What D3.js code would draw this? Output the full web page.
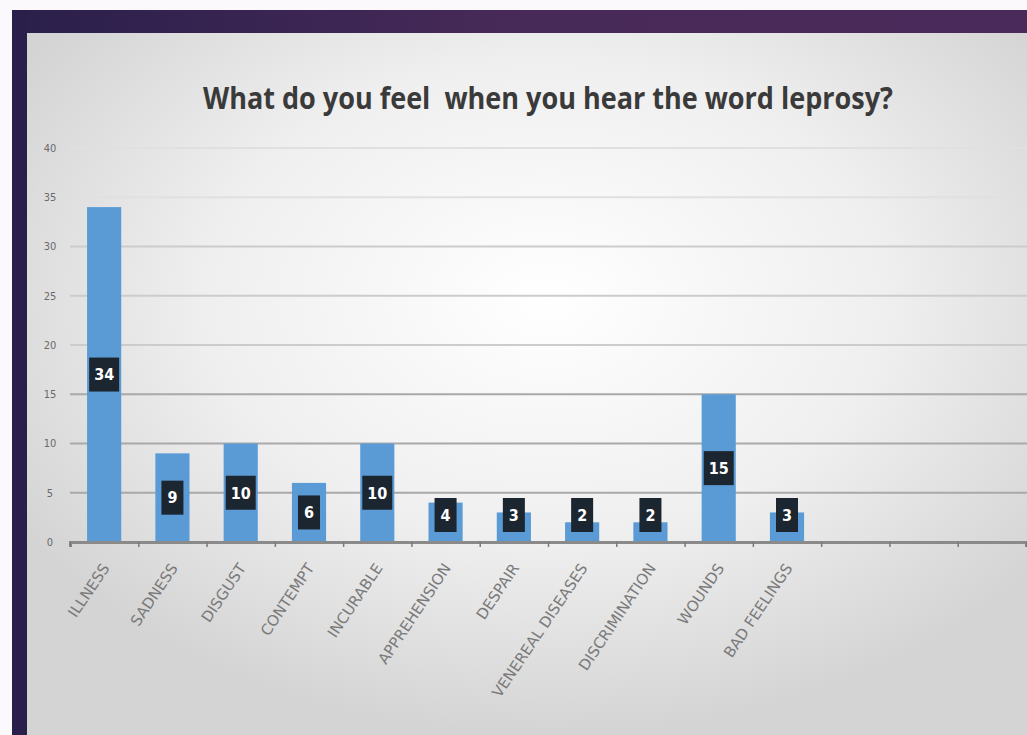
<!DOCTYPE html>
<html>
<head>
<meta charset="utf-8">
<script src="https://cdn.jsdelivr.net/npm/d3@7"></script>
<style>
html,body{margin:0;padding:0;background:#fff;overflow:hidden}
svg{display:block}
</style>
</head>
<body>
<svg id="chart" width="1027" height="735"></svg>
<script>
const titleText = "What do you feel  when you hear the word leprosy?";
const categories = ["ILLNESS","SADNESS","DISGUST","CONTEMPT","INCURABLE","APPREHENSION","DESPAIR","VENEREAL DISEASES","DISCRIMINATION","WOUNDS","BAD FEELINGS","","",""];
const values = [34, 9, 10, 6, 10, 4, 3, 2, 2, 15, 3];
const yTicks = [0, 5, 10, 15, 20, 25, 30, 35, 40];

const W = 1027, H = 735;
const svg = d3.select("#chart");
const defs = svg.append("defs");

const bandGrad = defs.append("linearGradient").attr("id","band").attr("x1","0").attr("x2","1");
bandGrad.append("stop").attr("offset","0").attr("stop-color","#2a1f4c");
bandGrad.append("stop").attr("offset","0.5").attr("stop-color","#482a58");
bandGrad.append("stop").attr("offset","1").attr("stop-color","#4a2a5a");

const panelGrad = defs.append("radialGradient").attr("id","panel")
  .attr("cx","0.52").attr("cy","0.38").attr("r","0.62");
panelGrad.append("stop").attr("offset","0").attr("stop-color","#ffffff");
panelGrad.append("stop").attr("offset","0.55").attr("stop-color","#efefef");
panelGrad.append("stop").attr("offset","1").attr("stop-color","#d4d4d4");

// frame
svg.append("rect").attr("x",0).attr("y",0).attr("width",W).attr("height",H).attr("fill","#fbf9fc");
svg.append("rect").attr("x",12).attr("y",10).attr("width",W-12).attr("height",H-10).attr("fill","url(#band)");
svg.append("rect").attr("x",12).attr("y",10).attr("width",15).attr("height",H-10).attr("fill","#2a1f4a");
svg.append("rect").attr("x",27).attr("y",33).attr("width",W-27).attr("height",H-33).attr("fill","url(#panel)");

// title
svg.append("text").attr("x",548).attr("y",109).attr("text-anchor","middle")
  .attr("font-family","'Open Sans', 'DejaVu Sans', sans-serif").attr("font-weight","bold")
  .attr("font-size",31).attr("fill","#3a3a3a")
  .attr("textLength",690).attr("lengthAdjust","spacingAndGlyphs")
  .style("white-space","pre")
  .text(titleText);

const x = d3.scaleBand().domain(d3.range(categories.length)).range([70, 1026]).paddingInner(0.5).paddingOuter(0.25);
const y = d3.scaleLinear().domain([0, 40]).range([542, 148]);

// gridlines
svg.append("g").selectAll("line").data(yTicks.filter(d => d > 0)).join("line")
  .attr("x1",70).attr("x2",W).attr("y1",d => y(d)).attr("y2",d => y(d))
  .attr("stroke", d => d <= 15 ? "#a9a9a9" : (d >= 35 ? "#e0e0e0" : "#cccccc")).attr("stroke-width",2);

// y axis labels
svg.append("g").selectAll("text").data(yTicks).join("text")
  .attr("x",50).attr("y",d => y(d)).attr("dy","0.35em").attr("text-anchor","middle")
  .attr("font-family","'DejaVu Sans Condensed', 'DejaVu Sans', sans-serif")
  .attr("font-size",11).attr("fill","#6a6a6a")
  .text(d => d);

// bars
svg.append("g").selectAll("rect").data(values).join("rect")
  .attr("x",(d,i) => x(i)).attr("width",x.bandwidth())
  .attr("y",d => y(d)).attr("height",d => y(0) - y(d))
  .attr("fill","#5b9bd5");

// x axis
const xAxis = d3.axisBottom(d3.scaleLinear().domain([0, categories.length]).range([70, 1026]))
  .tickValues(d3.range(categories.length + 1)).tickSize(5).tickFormat("");
const gx = svg.append("g").attr("transform","translate(0,542)").call(xAxis);
gx.select(".domain").attr("stroke","#8a8a8a").attr("stroke-width",3);
gx.selectAll(".tick line").attr("stroke","#7a7a7a").attr("stroke-width",1.5);

// category labels
svg.append("g").selectAll("text").data(categories).join("text")
  .attr("transform",(d,i) => `translate(${x(i) + x.bandwidth()/2 + 6},${568}) rotate(-56)`)
  .attr("text-anchor","end")
  .attr("font-family","'DejaVu Sans', sans-serif")
  .attr("font-size",15).attr("fill","#7a7a7a")
  .text(d => d);

// data labels
const lbl = svg.append("g").selectAll("g").data(values).join("g")
  .attr("transform",(d,i) => {
    const cy = Math.min(y(d/2), y(0) - 27);
    return `translate(${x(i) + x.bandwidth()/2},${cy})`;
  });
lbl.append("rect")
  .attr("x",d => -(String(d).length > 1 ? 15 : 11)).attr("width",d => String(d).length > 1 ? 30 : 22)
  .attr("y",-17).attr("height",34).attr("fill","#1c2630");
lbl.append("text").attr("text-anchor","middle").attr("dy","0.36em")
  .attr("font-family","'DejaVu Sans Condensed', 'DejaVu Sans', sans-serif").attr("font-weight","bold")
  .attr("font-size",16).attr("fill","#ffffff")
  .text(d => d);
</script>
</body>
</html>
